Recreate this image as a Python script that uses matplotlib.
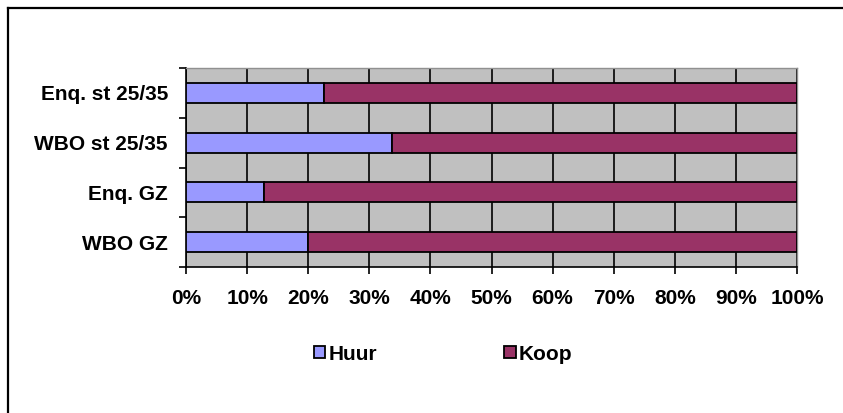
import matplotlib
matplotlib.use('Agg')
import matplotlib.pyplot as plt
from matplotlib.lines import Line2D
import numpy as np

# data, bottom to top
categories = ['WBO GZ', 'Enq. GZ', 'WBO st 25/35', 'Enq. st 25/35']
huur = [19.9, 12.8, 33.7, 22.6]
koop = [80.1, 87.2, 66.3, 77.4]
series_names = ['Huur', 'Koop']
series_colors = ['#9999FF', '#993366']
x_ticks = list(range(0, 101, 10))

plt.rcParams['font.family'] = ['Liberation Sans', 'DejaVu Sans']
plt.rcParams['font.weight'] = 'bold'
plt.rcParams['font.size'] = 15

W, H = 843, 413
fig = plt.figure(figsize=(W / 100, H / 100), dpi=100)
ax = fig.add_axes([186 / W, 1 - 267 / H, (797 - 186) / W, (267 - 68) / H])
ax.set_facecolor('#C0C0C0')

y = np.arange(len(categories))
ax.barh(y, huur, height=0.4, color=series_colors[0], edgecolor='black',
        linewidth=1.3, label=series_names[0], zorder=3)
ax.barh(y, koop, left=huur, height=0.4, color=series_colors[1], edgecolor='black',
        linewidth=1.3, label=series_names[1], zorder=3)

ax.set_xlim(0, 100)
ax.set_ylim(-0.5, len(categories) - 0.5)
ax.set_xticks(x_ticks)
ax.set_xticklabels([f'{t}%' for t in x_ticks])
ax.xaxis.grid(True, color='black', linewidth=1.2, zorder=1)
ax.set_axisbelow(True)

# category labels at centres, tick marks at boundaries
ax.set_yticks(y)
ax.set_yticklabels(categories)
ax.set_yticks(np.arange(-0.5, len(categories)), minor=True)
ax.tick_params(axis='y', which='major', length=0, pad=13)
ax.tick_params(axis='y', which='minor', length=5, width=1.2, direction='out')
ax.tick_params(axis='x', length=5, width=1.2, direction='out', pad=11)

for s in ['left', 'bottom']:
    ax.spines[s].set_color('black')
    ax.spines[s].set_linewidth(1.2)
for s in ['top', 'right']:
    ax.spines[s].set_color('#909090')
    ax.spines[s].set_linewidth(1.0)

fig.legend(loc='center', bbox_to_anchor=(443 / W, 1 - 354 / H), ncol=2,
           frameon=False, handlelength=0.55, handleheight=0.55, handletextpad=0.15,
           columnspacing=6.1, borderaxespad=0)

# outer frame (left and top edges only visible)
fig.add_artist(Line2D([8 / W, 8 / W], [0, 1 - 8 / H], color='black', linewidth=1.6,
                      transform=fig.transFigure))
fig.add_artist(Line2D([8 / W, 1], [1 - 8 / H, 1 - 8 / H], color='black', linewidth=1.6,
                      transform=fig.transFigure))

fig.savefig('out.png', dpi=100)
